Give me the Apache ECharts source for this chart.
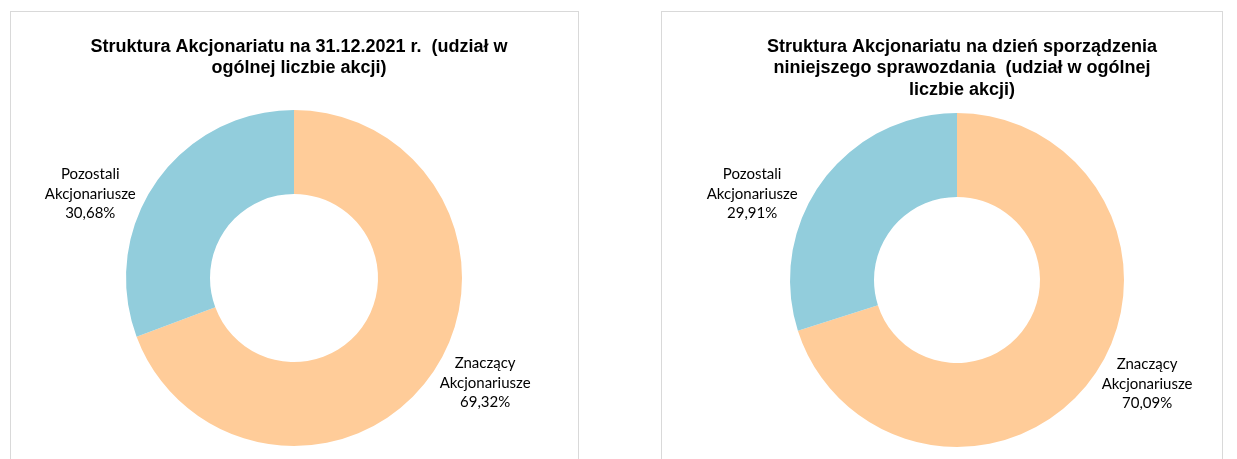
<!DOCTYPE html>
<html>
<head>
<meta charset="utf-8">
<script src="https://cdn.jsdelivr.net/npm/echarts@6/dist/echarts.min.js"></script>
<style>
  html, body { margin: 0; padding: 0; background: #fff; overflow: hidden; width: 1237px; height: 459px; }
  .panel { position: absolute; border: 1px solid #d9d9d9; background: #fff; box-sizing: border-box; }
  #left { left: 10px; top: 11px; width: 569px; height: 470px; }
  #right { left: 661px; top: 11px; width: 562px; height: 470px; }
  .chart { width: 100%; height: 100%; }
</style>
</head>
<body>
<div class="panel" id="left"><div class="chart" id="chartLeft"></div></div>
<div class="panel" id="right"><div class="chart" id="chartRight"></div></div>
<script>
// dane
const categories = ['Znaczący\nAkcjonariusze', 'Pozostali\nAkcjonariusze']
const valuesLeft = [69.32, 30.68]
const valuesRight = [70.09, 29.91]
const titleLeft = 'Struktura Akcjonariatu na 31.12.2021 r.  (udział w\nogólnej liczbie akcji)'
const titleRight = 'Struktura Akcjonariatu na dzień sporządzenia\nniniejszego sprawozdania  (udział w ogólnej\nliczbie akcji)'
const colors = ['#FFCC99', '#92CDDC']

function makeOption(title, values, center, radius, labelLines) {
  return {
    animation: false,
    title: {
      text: title,
      left: center[0],
      top: 19,
      textAlign: 'center',
      textStyle: {
        fontFamily: 'Liberation Sans, Arial',
        fontWeight: 'bold',
        fontSize: 18,
        lineHeight: 21.5,
        color: '#000'
      }
    },
    series: [
      {
        type: 'pie',
        center: center,
        radius: radius,
        startAngle: 90,
        clockwise: true,
        avoidLabelOverlap: false,
        color: colors,
        label: {
          show: true,
          position: 'outside',
          distanceToLabelLine: 0,
          fontFamily: 'Lato, Calibri, sans-serif',
          fontSize: 15,
          lineHeight: 19.5,
          color: '#000',
          formatter: (p) => p.name + '\n' + p.value.toFixed(2).replace('.', ',') + '%'
        },
        labelLine: { show: false },
        labelLayout: { align: 'center', verticalAlign: 'middle' },
        emphasis: { disabled: true },
        data: values.map((v, i) => ({
          name: categories[i],
          value: v,
          labelLine: { show: false, length: labelLines[i][0], length2: labelLines[i][1] }
        }))
      }
    ]
  }
}

const left = echarts.init(document.getElementById('chartLeft'))
left.setOption(makeOption(titleLeft, valuesLeft, [283, 266], [84, 168], [[16, 40], [-21, 83]]))

const right = echarts.init(document.getElementById('chartRight'))
right.setOption(makeOption(titleRight, valuesRight, [295, 268], [83, 167], [[9, 48], [-21, 87]]))
</script>
</body>
</html>
